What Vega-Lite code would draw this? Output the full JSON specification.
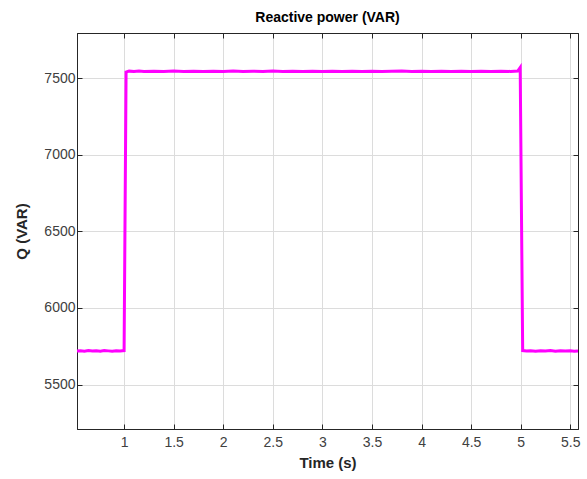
{
  "$schema": "https://vega.github.io/schema/vega-lite/v6.json",
  "autosize": "none",
  "width": 501,
  "height": 396,
  "padding": {"left": 77, "top": 33, "right": 9, "bottom": 50},
  "background": "white",
  "title": {"text": "Reactive power (VAR)", "font": "Liberation Sans", "fontSize": 14, "fontWeight": "bold", "color": "#000000", "anchor": "middle", "offset": 8},
  "config": {
    "view": {"stroke": "#262626", "strokeWidth": 1},
    "axis": {"labelFont": "Liberation Sans", "labelFontSize": 14, "labelColor": "#404040", "titleFont": "Liberation Sans", "titleFontSize": 15, "titleFontWeight": "bold", "titleColor": "#262626", "gridColor": "#dcdcdc", "gridWidth": 1, "domainColor": "#262626", "tickColor": "#262626", "tickSize": -5}
  },
  "data": {"values": [
    {"t": 0.525, "q": 5719}, {"t": 0.56, "q": 5721}, {"t": 0.6, "q": 5718}, {"t": 0.64, "q": 5722}, {"t": 0.68, "q": 5719},
    {"t": 0.72, "q": 5721}, {"t": 0.76, "q": 5718}, {"t": 0.8, "q": 5722}, {"t": 0.84, "q": 5720}, {"t": 0.88, "q": 5718},
    {"t": 0.92, "q": 5721}, {"t": 0.96, "q": 5719}, {"t": 1.0, "q": 5722},
    {"t": 1.02, "q": 7540}, {"t": 1.05, "q": 7546}, {"t": 1.1, "q": 7543}, {"t": 1.15, "q": 7547}, {"t": 1.2, "q": 7544},
    {"t": 1.3, "q": 7546}, {"t": 1.4, "q": 7543}, {"t": 1.5, "q": 7547}, {"t": 1.6, "q": 7544}, {"t": 1.7, "q": 7546},
    {"t": 1.8, "q": 7543}, {"t": 1.9, "q": 7546}, {"t": 2.0, "q": 7544}, {"t": 2.1, "q": 7547}, {"t": 2.2, "q": 7543},
    {"t": 2.3, "q": 7546}, {"t": 2.4, "q": 7544}, {"t": 2.5, "q": 7547}, {"t": 2.6, "q": 7544}, {"t": 2.7, "q": 7546},
    {"t": 2.8, "q": 7543}, {"t": 2.9, "q": 7546}, {"t": 3.0, "q": 7544}, {"t": 3.1, "q": 7546}, {"t": 3.2, "q": 7543},
    {"t": 3.3, "q": 7545}, {"t": 3.4, "q": 7544}, {"t": 3.5, "q": 7546}, {"t": 3.6, "q": 7543}, {"t": 3.7, "q": 7545},
    {"t": 3.8, "q": 7547}, {"t": 3.9, "q": 7544}, {"t": 4.0, "q": 7546}, {"t": 4.1, "q": 7543}, {"t": 4.2, "q": 7545},
    {"t": 4.3, "q": 7544}, {"t": 4.4, "q": 7546}, {"t": 4.5, "q": 7543}, {"t": 4.6, "q": 7545}, {"t": 4.7, "q": 7544},
    {"t": 4.8, "q": 7546}, {"t": 4.9, "q": 7544}, {"t": 4.97, "q": 7547}, {"t": 4.995, "q": 7570},
    {"t": 5.02, "q": 5722}, {"t": 5.06, "q": 5719}, {"t": 5.1, "q": 5721}, {"t": 5.15, "q": 5718}, {"t": 5.2, "q": 5721},
    {"t": 5.25, "q": 5719}, {"t": 5.3, "q": 5722}, {"t": 5.35, "q": 5718}, {"t": 5.4, "q": 5721}, {"t": 5.45, "q": 5719},
    {"t": 5.5, "q": 5721}, {"t": 5.54, "q": 5718}, {"t": 5.578, "q": 5720}
  ]},
  "layer": [
    {
      "mark": {"type": "line", "color": "#ff00ff", "strokeWidth": 3, "clip": true},
      "encoding": {
        "x": {"field": "t", "type": "quantitative", "scale": {"domain": [0.525, 5.578], "nice": false, "zero": false},
              "axis": {"orient": "bottom", "title": "Time (s)", "values": [1, 1.5, 2, 2.5, 3, 3.5, 4, 4.5, 5, 5.5], "format": "~g", "labelPadding": 11, "titlePadding": 6, "grid": true}},
        "y": {"field": "q", "type": "quantitative", "scale": {"domain": [5210, 7795], "nice": false, "zero": false},
              "axis": {"orient": "left", "title": "Q (VAR)", "values": [5500, 6000, 6500, 7000, 7500], "format": "d", "labelPadding": 7, "titlePadding": 14, "grid": true}}
      }
    },
    {
      "mark": {"type": "line", "opacity": 0},
      "encoding": {
        "x": {"field": "t", "type": "quantitative", "axis": {"orient": "top", "title": null, "labels": false, "grid": false, "values": [1, 1.5, 2, 2.5, 3, 3.5, 4, 4.5, 5, 5.5]}},
        "y": {"field": "q", "type": "quantitative", "axis": {"orient": "right", "title": null, "labels": false, "grid": false, "values": [5500, 6000, 6500, 7000, 7500]}}
      }
    }
  ],
  "resolve": {"axis": {"x": "independent", "y": "independent"}}
}
